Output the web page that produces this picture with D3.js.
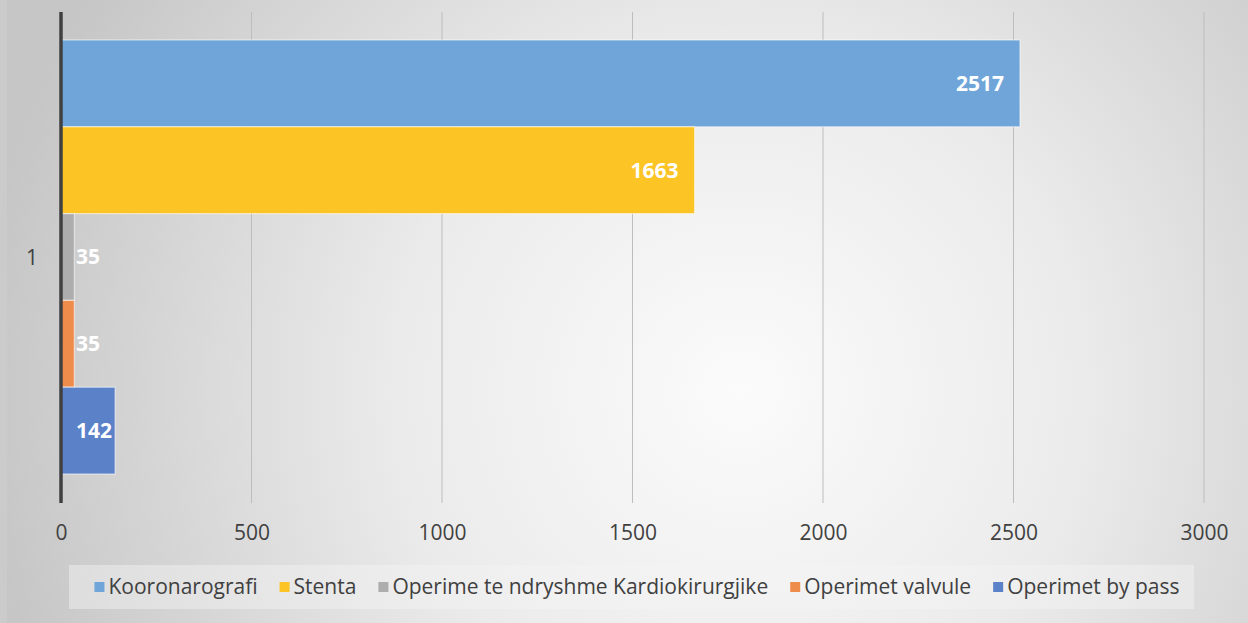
<!DOCTYPE html>
<html><head><meta charset="utf-8">
<script src="https://cdn.jsdelivr.net/npm/d3@7"></script>
<style>html,body{margin:0;padding:0;background:#cbcbcb;}svg{display:block;}</style>
</head><body>
<svg id="c" width="1248" height="623"></svg>
<script>
const categories = ["1"];
const seriesNames = ["Kooronarografi", "Stenta", "Operime te ndryshme Kardiokirurgjike", "Operimet valvule", "Operimet by pass"];
const seriesValues = [2517, 1663, 35, 35, 142];
const seriesColors = ["#6fa5d8", "#fcc424", "#adadad", "#ee8c4c", "#5b81c9"];
const xTicks = [0, 500, 1000, 1500, 2000, 2500, 3000];

const svg = d3.select("#c");
const W = 1248, H = 623;
const font = "'Open Sans', sans-serif";

const defs = svg.append("defs");
const rg = defs.append("radialGradient").attr("id","bg")
  .attr("gradientUnits","userSpaceOnUse").attr("cx",740).attr("cy",390).attr("r",760);
rg.append("stop").attr("offset","0").attr("stop-color","#fbfbfb");
rg.append("stop").attr("offset","0.45").attr("stop-color","#ebebeb");
rg.append("stop").attr("offset","1").attr("stop-color","#c6c6c6");
svg.append("rect").attr("x",7).attr("y",0).attr("width",W-7).attr("height",H).attr("fill","url(#bg)");

const x = d3.scaleLinear().domain([0,3000]).range([61,1204]);
const yTop = 12, yBot = 503;
const yCat = d3.scaleBand().domain(categories).range([yTop,yBot]);
const yBar = d3.scaleBand().domain(seriesNames).range([40, 474]).padding(0);

// gridlines
svg.append("g").selectAll("line").data(xTicks.filter(t=>t>0)).join("line")
  .attr("x1",d=>x(d)).attr("x2",d=>x(d)).attr("y1",yTop).attr("y2",yBot)
  .attr("stroke","#bdbdbd").attr("stroke-width",1);

// bars
const data = seriesNames.map((n,i)=>({name:n, value:seriesValues[i], color:seriesColors[i]}));
svg.append("g").selectAll("rect").data(data).join("rect")
  .attr("x",x(0)).attr("y",d=>yBar(d.name))
  .attr("width",d=>x(d.value)-x(0)).attr("height",yBar.bandwidth())
  .attr("fill",d=>d.color).attr("stroke","rgba(255,255,255,0.55)").attr("stroke-width",1.2);

// labels
const lg = svg.append("g");
data.forEach(d=>{
  const t = lg.append("text").text(d.value)
    .attr("font-family",font).attr("font-weight","bold").attr("font-size",21)
    .attr("fill","#fff").attr("y",yBar(d.name)+yBar.bandwidth()/2).attr("dy","0.35em");
  const w = t.node().getComputedTextLength();
  let xs = x(d.value)-16-w;
  if (xs < 76) xs = 76;
  t.attr("x",xs);
});

// vertical axis line
svg.append("line").attr("x1",x(0)).attr("x2",x(0)).attr("y1",yTop).attr("y2",yBot)
  .attr("stroke","#404040").attr("stroke-width",3.5);

// category label
svg.append("text").text(categories[0]).attr("x",32).attr("y",yCat(categories[0])+yCat.bandwidth()/2)
  .attr("dy","0.35em").attr("text-anchor","middle").attr("font-family",font).attr("font-size",21).attr("fill","#404040");

// x axis tick labels
const ax = svg.append("g").attr("transform",`translate(0,${yBot})`)
  .call(d3.axisBottom(x).tickValues(xTicks).tickSize(0).tickPadding(22).tickFormat(d3.format("d")));
ax.select(".domain").remove();
ax.selectAll("text").attr("font-family",font).attr("font-size",21).attr("fill","#404040");

// legend
svg.append("rect").attr("x",69).attr("y",565).attr("width",1125).attr("height",44)
  .attr("fill","rgba(245,245,245,0.45)");
const leg = svg.append("g");
let items = [];
data.forEach((d,i)=>{
  const g = leg.append("g");
  g.append("rect").attr("x",0).attr("y",-5).attr("width",10).attr("height",10).attr("fill",d.color);
  const t = g.append("text").text(d.name).attr("x",14).attr("dy","0.35em")
    .attr("font-family",font).attr("font-size",21).attr("fill","#404040");
  const w = 14 + t.node().getComputedTextLength();
  items.push({g, w});
});
const gap = 22;
const total = d3.sum(items, d=>d.w) + gap*(items.length-1);
let sx = 637 - total/2;
items.forEach(it=>{ it.g.attr("transform",`translate(${sx},587)`); sx += it.w + gap; });
</script>
</body></html>
